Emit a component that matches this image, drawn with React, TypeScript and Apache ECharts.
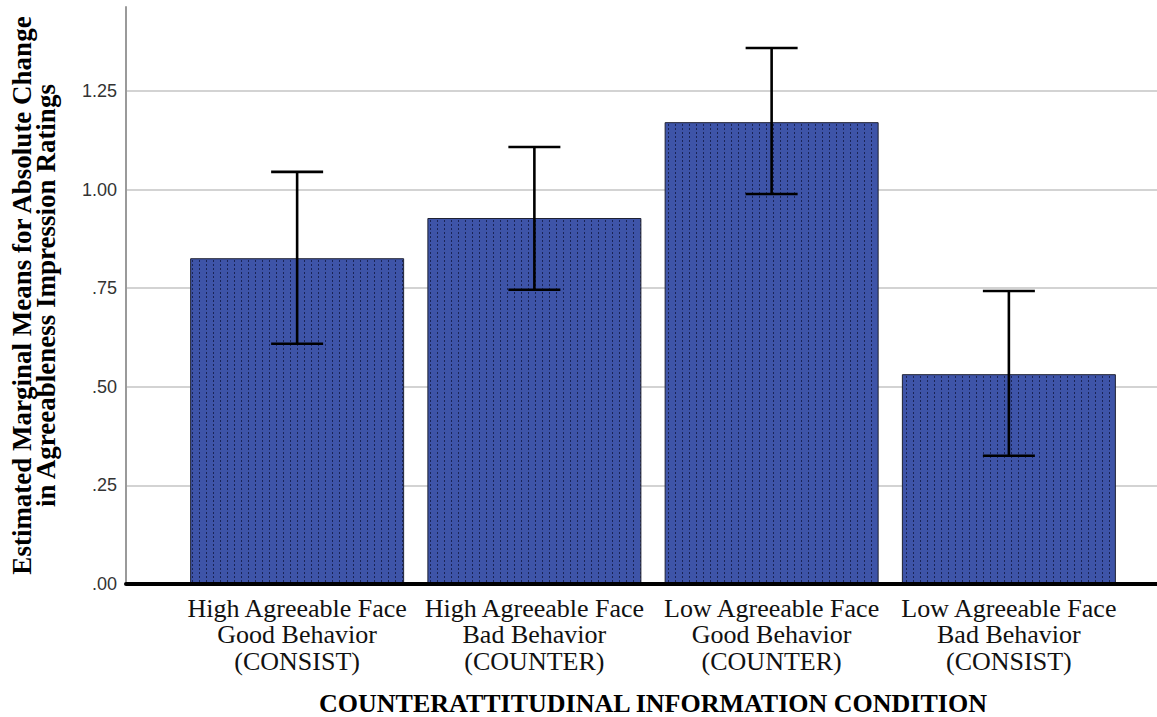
import React, { useEffect, useRef } from "react";
import * as echarts from "echarts";

// Conditions on the category axis (three-line labels)
const categories = [
  "High Agreeable Face\nGood Behavior\n(CONSIST)",
  "High Agreeable Face\nBad Behavior\n(COUNTER)",
  "Low Agreeable Face\nGood Behavior\n(COUNTER)",
  "Low Agreeable Face\nBad Behavior\n(CONSIST)",
];

// Estimated marginal means and their error-bar limits
const means = [0.826, 0.928, 1.171, 0.532];
const lower = [0.609, 0.746, 0.989, 0.325];
const upper = [1.045, 1.108, 1.359, 0.743];

// Value axis
const yMin = 0;
const yMax = 1.463;
const yStep = 0.25;

const serif = "Liberation Serif";
const sans = "Liberation Sans";

// Small repeating tile: blue fill with a dark dotted column
function makeDotTile(): string {
  const c = document.createElement("canvas");
  c.width = 7;
  c.height = 4;
  const ctx = c.getContext("2d")!;
  ctx.fillStyle = "#3e54a8";
  ctx.fillRect(0, 0, 7, 4);
  ctx.fillStyle = "#1a2456";
  ctx.fillRect(3, 0, 1, 2);
  return c.toDataURL();
}

export default function App() {
  const ref = useRef<HTMLDivElement>(null);

  useEffect(() => {
    if (!ref.current) return;
    const chart = echarts.init(ref.current, undefined, { renderer: "svg" });

    const errorData = categories.map((_, i) => [i, lower[i], upper[i]]);
    const tile = makeDotTile();

    const catStyle = {
      fontFamily: serif,
      fontSize: 26,
      lineHeight: 26.5,
      color: "#111",
      align: "center",
    };

    chart.setOption({
      animation: false,
      backgroundColor: "#ffffff",
      textStyle: { fontFamily: serif },
      grid: [
        // frame with the value axis and grid lines
        { left: 126, right: 0, top: 7, bottom: 133, containLabel: false, outerBoundsMode: "none" },
        // category area holding the bars
        { left: 178.5, right: 29.5, top: 7, bottom: 133, containLabel: false, outerBoundsMode: "none" },
      ],
      xAxis: [
        {
          gridIndex: 0,
          type: "value",
          min: 0,
          max: 1,
          z: 10,
          axisLine: { show: true, onZero: false, lineStyle: { color: "#000", width: 4 } },
          axisTick: { show: false },
          axisLabel: { show: false },
          splitLine: { show: false },
        },
        {
          gridIndex: 1,
          type: "category",
          data: categories,
          axisLine: { show: false },
          axisTick: { show: false },
          axisLabel: {
            interval: 0,
            margin: 11,
            ...catStyle,
            hideOverlap: false,
            formatter: (v: string) =>
              v.split("\n").map((line) => `{c|${line}}`).join("\n"),
            rich: { c: catStyle },
          },
          name: "COUNTERATTITUDINAL INFORMATION CONDITION",
          nameLocation: "middle",
          nameGap: 106,
          nameTextStyle: {
            fontFamily: serif,
            fontWeight: "bold",
            fontSize: 26,
            color: "#000",
          },
        },
      ],
      yAxis: [
        {
          gridIndex: 0,
          type: "value",
          min: yMin,
          max: yMax,
          interval: yStep,
          axisLine: { show: true, lineStyle: { color: "#9a9a9a", width: 2 } },
          axisTick: { show: false },
          axisLabel: {
            showMaxLabel: false,
            margin: 9,
            fontFamily: sans,
            fontSize: 18,
            color: "#333",
            formatter: (v: number) => v.toFixed(2).replace(/^0/, ""),
          },
          splitLine: {
            show: true,
            showMaxLine: false,
            lineStyle: { color: "#c4c4c4", width: 1.5 },
          },
          name: "Estimated Marginal Means for Absolute Change\nin Agreeableness Impression Ratings",
          nameLocation: "middle",
          nameRotate: 90,
          nameGap: 68,
          nameTextStyle: {
            fontFamily: serif,
            fontWeight: "bold",
            fontSize: 27,
            lineHeight: 24,
            color: "#000",
            align: "center",
          },
        },
        {
          gridIndex: 1,
          type: "value",
          min: yMin,
          max: yMax,
          interval: yStep,
          show: false,
          splitLine: { show: false },
        },
      ],
      series: [
        {
          type: "bar",
          xAxisIndex: 1,
          yAxisIndex: 1,
          data: means,
          barWidth: 214,
          itemStyle: {
            color: { image: tile, repeat: "repeat" },
            borderColor: "#1f2233",
            borderWidth: 1,
          },
          z: 2,
        },
        {
          type: "custom",
          xAxisIndex: 1,
          yAxisIndex: 1,
          data: errorData,
          z: 5,
          renderItem: (params: any, api: any) => {
            const idx = api.value(0);
            const lo = api.coord([idx, api.value(1)]);
            const hi = api.coord([idx, api.value(2)]);
            const half = 26;
            const style = { stroke: "#000", lineWidth: 2.6 };
            return {
              type: "group",
              children: [
                { type: "line", shape: { x1: hi[0], y1: hi[1], x2: lo[0], y2: lo[1] }, style },
                { type: "line", shape: { x1: hi[0] - half, y1: hi[1], x2: hi[0] + half, y2: hi[1] }, style },
                { type: "line", shape: { x1: lo[0] - half, y1: lo[1], x2: lo[0] + half, y2: lo[1] }, style },
              ],
            };
          },
        },
      ],
    });

    return () => chart.dispose();
  }, []);

  return (
    <div
      ref={ref}
      style={{ position: "fixed", left: 0, top: 0, width: 1157, height: 717, background: "#fff" }}
    />
  );
}
